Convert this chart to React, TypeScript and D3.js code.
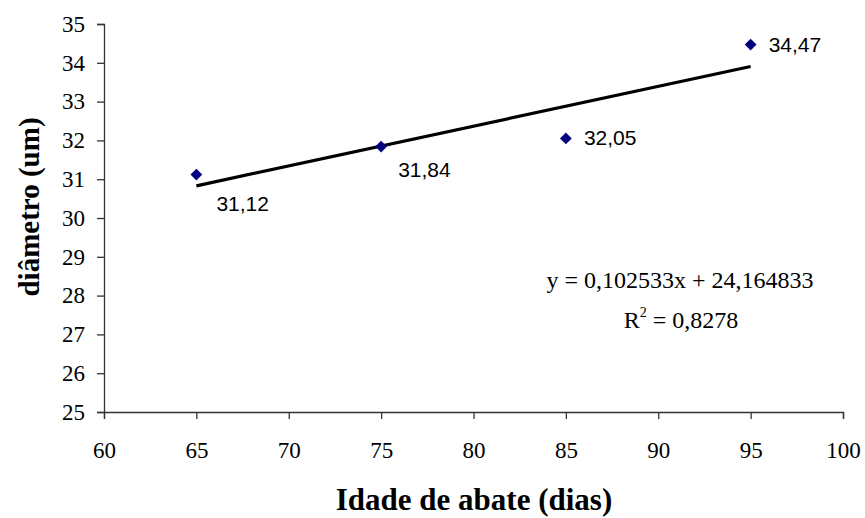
import React, { useEffect, useRef } from "react";
import * as d3 from "d3";

// observed points
const ages = [65, 75, 85, 95];
const diameters = [31.12, 31.84, 32.05, 34.47];
const pointLabels = ["31,12", "31,84", "32,05", "34,47"];

// linear trend line from the chart
const slope = 0.102533;
const intercept = 24.164833;
const equationText = "y = 0,102533x + 24,164833";
const r2Text = " = 0,8278";

const xTicks = [60, 65, 70, 75, 80, 85, 90, 95, 100];
const yTicks = [25, 26, 27, 28, 29, 30, 31, 32, 33, 34, 35];

const serif = "'Liberation Serif', 'Times New Roman', serif";
const sans = "'Liberation Sans', Arial, sans-serif";

export default function App() {
  const ref = useRef<SVGSVGElement | null>(null);

  useEffect(() => {
    const svg = d3.select(ref.current);
    svg.selectAll("*").remove();

    const margin = { top: 24, left: 104 };
    const w = 843 - margin.left;
    const h = 412 - margin.top;

    const x = d3.scaleLinear().domain([60, 100]).range([0, w]);
    const y = d3.scaleLinear().domain([25, 35]).range([h, 0]);

    const g = svg.append("g").attr("transform", `translate(${margin.left}, ${margin.top})`);

    // axes
    const xAxis = g.append("g")
      .attr("transform", `translate(0, ${h})`)
      .call(d3.axisBottom(x).tickValues(xTicks).tickSize(7).tickPadding(23).tickFormat(d3.format("d")));
    const yAxis = g.append("g")
      .call(d3.axisLeft(y).tickValues(yTicks).tickSize(7).tickPadding(12).tickFormat(d3.format("d")));

    [xAxis, yAxis].forEach((a) => {
      a.select(".domain").attr("stroke", "#333").attr("stroke-width", 1.3);
      a.selectAll(".tick line").attr("stroke", "#333").attr("stroke-width", 1.3);
      a.selectAll(".tick text")
        .attr("fill", "#000")
        .style("font-family", serif)
        .style("font-size", "23px");
    });

    // trend line
    g.append("line")
      .attr("x1", x(65))
      .attr("y1", y(slope * 65 + intercept))
      .attr("x2", x(95))
      .attr("y2", y(slope * 95 + intercept))
      .attr("stroke", "#000")
      .attr("stroke-width", 3.2);

    // markers
    g.selectAll(".pt")
      .data(ages)
      .join("path")
      .attr("class", "pt")
      .attr("d", d3.symbol(d3.symbolDiamond2, 88)())
      .attr("transform", (d, i) => `translate(${x(d)}, ${y(diameters[i])})`)
      .attr("fill", "#000080");

    // data labels
    const offsets = [[20, 36], [17, 30], [18, 7], [18, 7]];
    g.selectAll(".lbl")
      .data(ages)
      .join("text")
      .attr("class", "lbl")
      .attr("x", (d, i) => x(d) + offsets[i][0])
      .attr("y", (d, i) => y(diameters[i]) + offsets[i][1])
      .style("font-family", sans)
      .style("font-size", "21px")
      .text((d, i) => pointLabels[i]);

    // equation
    const eq = svg.append("g")
      .style("font-family", serif)
      .style("font-size", "24px");
    eq.append("text")
      .attr("x", 680)
      .attr("y", 288)
      .attr("text-anchor", "middle")
      .text(equationText);
    const r2 = eq.append("text")
      .attr("x", 681)
      .attr("y", 328)
      .attr("text-anchor", "middle");
    r2.append("tspan").text("R");
    r2.append("tspan").attr("dy", -11).style("font-size", "14px").text("2");
    r2.append("tspan").attr("dy", 11).text(r2Text);

    // axis titles
    svg.append("text")
      .attr("x", 474)
      .attr("y", 510)
      .attr("text-anchor", "middle")
      .style("font-family", serif)
      .style("font-weight", "bold")
      .style("font-size", "31px")
      .text("Idade de abate (dias)");

    svg.append("text")
      .attr("transform", `translate(39, 207) rotate(-90)`)
      .attr("text-anchor", "middle")
      .style("font-family", serif)
      .style("font-weight", "bold")
      .style("font-size", "29px")
      .text("diâmetro (um)");
  }, []);

  return (
    <svg
      ref={ref}
      width={865}
      height={518}
      style={{ position: "absolute", left: 0, top: 0, background: "#fff" }}
    />
  );
}
